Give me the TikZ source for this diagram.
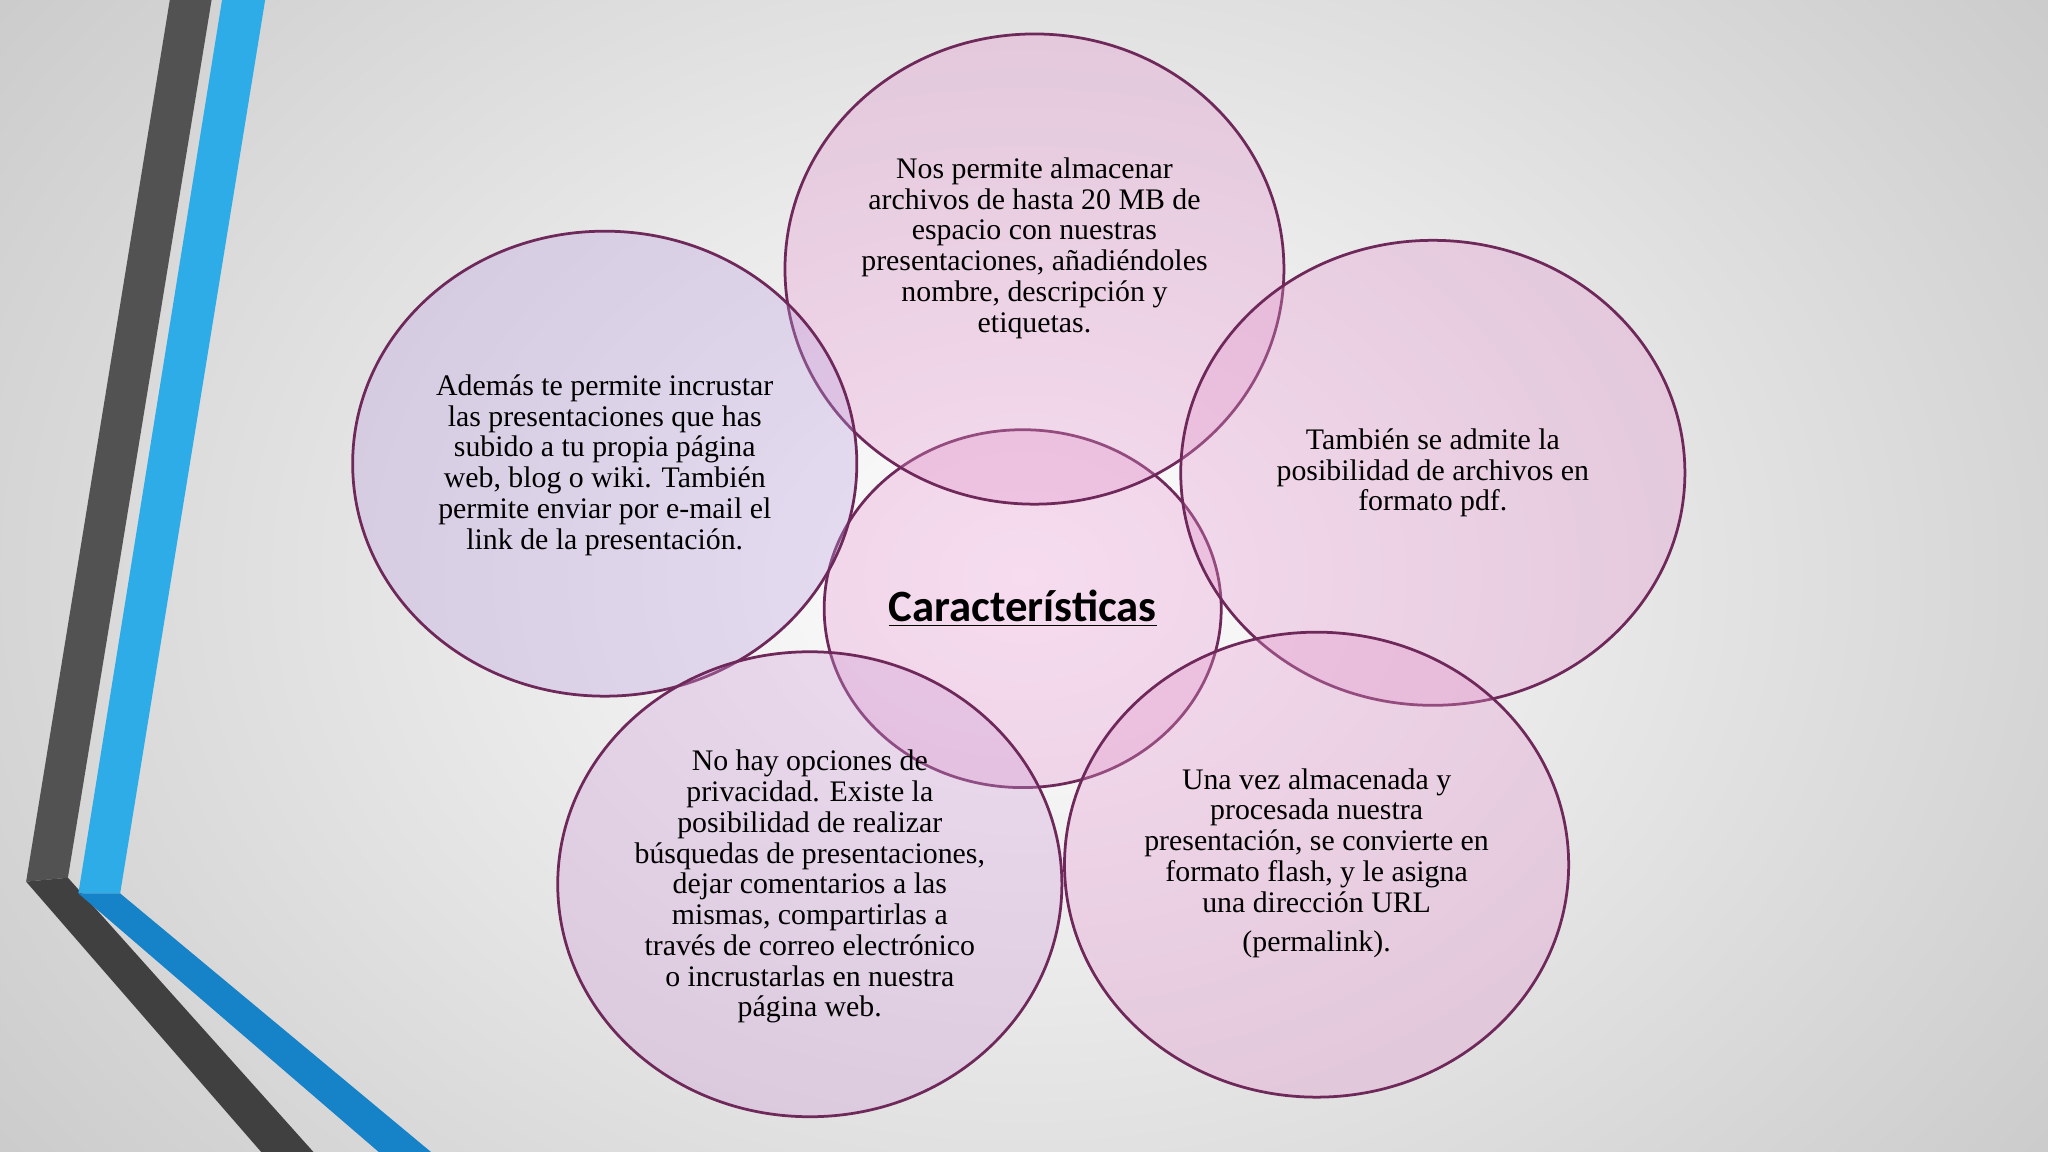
\documentclass[tikz,border=0pt]{standalone}
\usepackage{fontspec}
\setmainfont{Liberation Serif}
\newfontfamily\calib{Carlito}
\usetikzlibrary{shadings}
\definecolor{bub}{RGB}{228,150,205}
\definecolor{bubedge}{RGB}{110,40,90}
\definecolor{lav}{RGB}{190,160,225}
\definecolor{lblue}{RGB}{45,172,232}
\definecolor{dblue}{RGB}{22,130,200}
\tikzset{
  bubble/.style={draw=bubedge, line width=1.2pt, fill=bub, fill opacity=0.33, text opacity=1},
  btxt/.style={align=center, font=\fontsize{13}{13.4}\selectfont, text=black}
}
\begin{document}
\begin{tikzpicture}[x=0.02cm,y=-0.02cm]
\useasboundingbox (0,0) rectangle (1568,882);
\shade[inner color=white, outer color=gray!45] (-300,-400) rectangle (1868,1282);
\clip (0,0) rectangle (1568,882);
% stripes
\fill[black!68] (130,0) -- (162,0) -- (52,672) -- (20,675) -- cycle;
\fill[black!75] (20,675) -- (52,672) -- (240,882) -- (200,882) -- cycle;
\fill[lblue] (170,0) -- (203,0) -- (92,684) -- (60,684) -- cycle;
\fill[dblue] (60,684) -- (92,684) -- (330,882) -- (290,882) -- cycle;
% bubbles
\draw[bubble] (783,466) ellipse (152 and 137);
\draw[bubble] (792,206) ellipse (191 and 180);
\draw[bubble, fill=lav] (463,355) ellipse (193 and 178);
\draw[bubble] (1097,362) ellipse (193 and 178);
\draw[bubble, fill=lav!50!bub] (620,677) ellipse (193 and 178);
\draw[bubble] (1008,662) ellipse (193 and 178);
% texts
\node[btxt] (c) at (783,466) {\calib\bfseries\fontsize{19.5}{22}\selectfont\underline{Características}};
\node[btxt] (t) at (792,190) {Nos permite almacenar\\archivos de hasta 20 MB de\\espacio con nuestras\\presentaciones, añadiéndoles\\nombre, descripción y\\etiquetas.};
\node[btxt] (l) at (463,356) {Además te permite incrustar\\las presentaciones que has\\subido a tu propia página\\web, blog o wiki. También\\permite enviar por e-mail el\\link de la presentación.};
\node[btxt] (r) at (1097,362) {También se admite la\\posibilidad de archivos en\\formato pdf.};
\node[btxt] (bl) at (620,679) {No hay opciones de\\privacidad. Existe la\\posibilidad de realizar\\búsquedas de presentaciones,\\dejar comentarios a las\\mismas, compartirlas a\\través de correo electrónico\\o incrustarlas en nuestra\\página web.};
\node[btxt] (br) at (1008,661) {Una vez almacenada y\\procesada nuestra\\presentación, se convierte en\\formato flash, y le asigna\\una dirección URL\\[4pt](permalink).};
\end{tikzpicture}
\end{document}
